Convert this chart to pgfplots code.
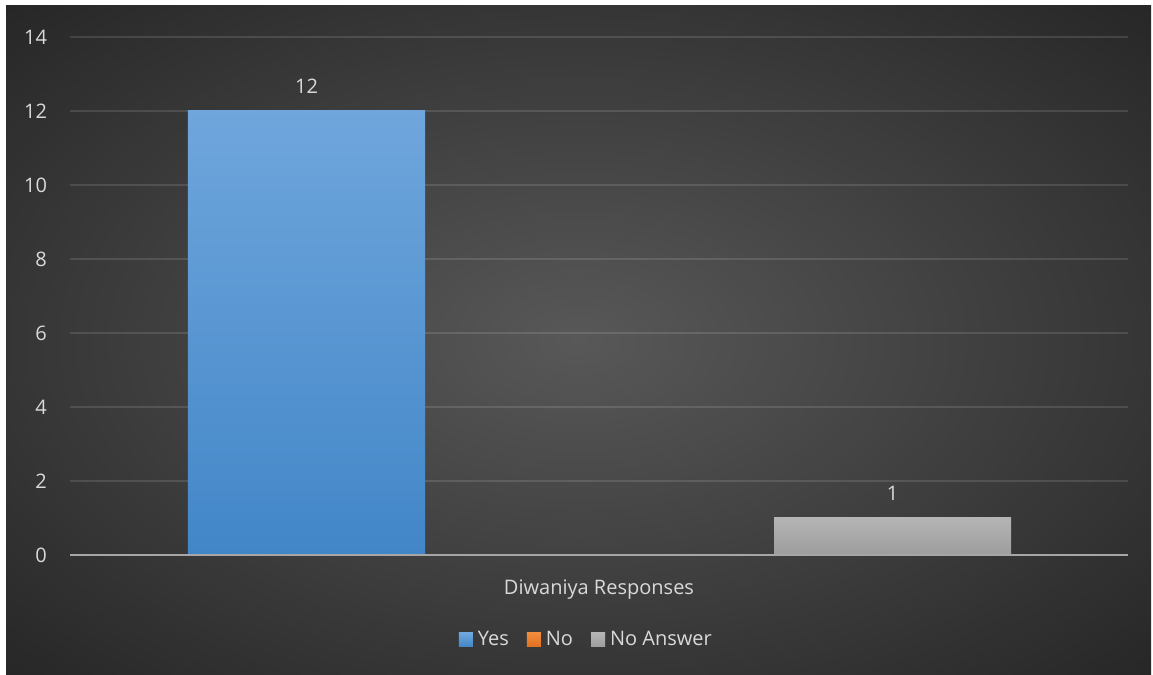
\documentclass[border=0pt]{standalone}
\usepackage{pgfplots}
\pgfplotsset{compat=1.18}
\usepackage{fontspec}
\setmainfont{Open Sans}
\definecolor{bgin}{HTML}{585858}
\definecolor{bgout}{HTML}{262626}
\definecolor{txt}{HTML}{D9D9D9}
\definecolor{yestop}{HTML}{6FA6DC}
\definecolor{yesbot}{HTML}{4286C8}
\definecolor{notop}{HTML}{F28C3C}
\definecolor{nobot}{HTML}{E0701F}
\definecolor{natop}{HTML}{B4B4B4}
\definecolor{nabot}{HTML}{9D9D9D}
\definecolor{axisln}{HTML}{A6A6A6}
\pgfdeclareradialshading{bgshade}{\pgfpoint{0bp}{0bp}}{color(0bp)=(bgin); color(36bp)=(bgout); color(50bp)=(bgout)}
\begin{document}
\begin{tikzpicture}
\fill[white] (0pt,0pt) rectangle (576.5pt,337.5pt);
\fill[bgout] (3pt,0pt) rectangle (575.5pt,334.5pt);
\shade[shading=bgshade] (3pt,0pt) rectangle (575.5pt,334.5pt);
\begin{axis}[
  at={(35pt,60pt)}, anchor=south west, scale only axis,
  width=529pt, height=259pt,
  xmin=0, xmax=1058, ymin=0, ymax=14,
  clip=false,
  ytick={0,2,...,14}, xtick={529}, xticklabels={Diwaniya Responses},
  ymajorgrids, major grid style={white, opacity=0.12, line width=0.75pt},
  axis line style={draw=none},
  major tick length=0pt,
  tick label style={txt, font=\fontsize{10}{12}\selectfont},
  /pgf/number format/assume math mode=true,
  yticklabel style={anchor=east, xshift=-8pt},
  xticklabel style={anchor=north, yshift=-9pt},
  legend style={at={(0.489,-0.164)}, anchor=center, legend columns=3, draw=none, fill=none,
    text=txt, font=\fontsize{10}{12}\selectfont,
    /tikz/every odd column/.append style={column sep=0.5pt},
    /tikz/every even column/.append style={column sep=7pt}},
  mybar/.style={ybar, bar width=237, bar shift=0pt, draw=none,
    legend image code/.code={\fill[##1] (0pt,-3.5pt) rectangle (7pt,3.5pt);}},
  nodes near coords style={txt, font=\fontsize{10}{12}\selectfont, anchor=center, yshift=12.5pt},
]
\addplot[mybar, top color=yestop, bottom color=yesbot, nodes near coords] coordinates {(236.5,12)};
\addlegendentry{Yes}
\addplot[mybar, top color=notop, bottom color=nobot] coordinates {(529.5,0)};
\addlegendentry{No}
\addplot[mybar, top color=natop, bottom color=nabot, nodes near coords] coordinates {(822.5,1)};
\addlegendentry{No Answer}
\draw[axisln, line width=1pt] (rel axis cs:0,0) -- (rel axis cs:1,0);
\end{axis}
\pgfresetboundingbox
\useasboundingbox (0pt,0pt) rectangle (576.5pt,337.5pt);
\end{tikzpicture}
\end{document}
